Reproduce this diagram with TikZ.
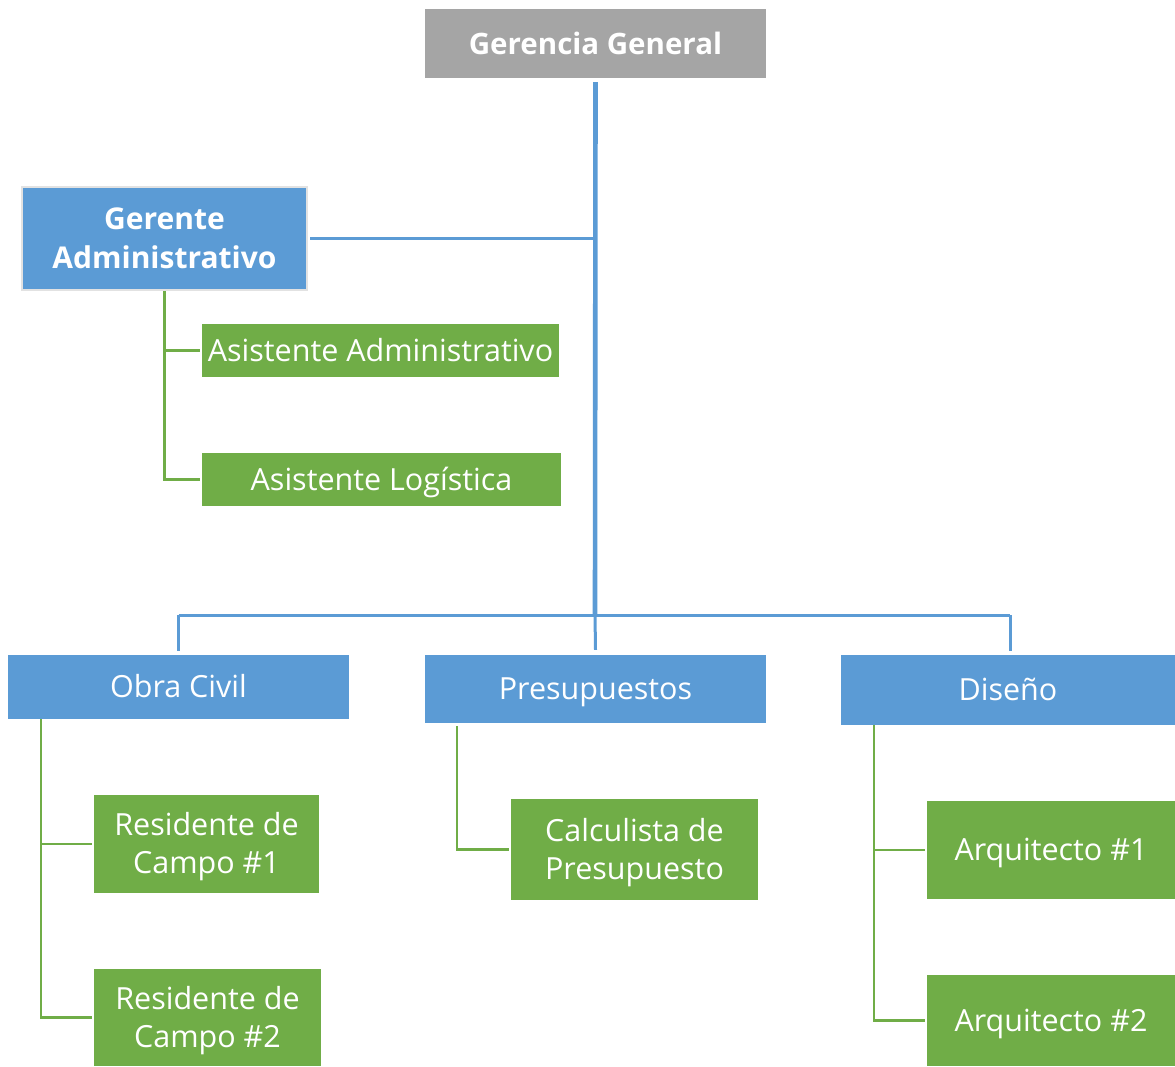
\documentclass[tikz,border=0pt]{standalone}
\usepackage{fontspec}
\setmainfont{Open Sans}
\definecolor{gbox}{HTML}{A5A5A5}
\definecolor{bbox}{HTML}{5B9BD5}
\definecolor{grbox}{HTML}{70AD47}
\definecolor{bline}{HTML}{5B9BD5}
\definecolor{gline}{HTML}{70AD47}
\definecolor{rim}{HTML}{E2E2E2}
\newcommand{\twolines}[3]{\raisebox{0pt}[\dimexpr#1+0.714em\relax][0pt]{\vbox{\baselineskip=#1\halign{\hfil##\hfil\cr#2\cr#3\cr}}}}
\begin{document}
\begin{tikzpicture}[x=1pt,y=-1pt,
  box/.style={rectangle, inner sep=0pt, text=white,
    font=\fontsize{30.5}{38}\selectfont},
  one/.style={text height=21.8pt, text depth=0pt},
  graybox/.style={box, fill=gbox, font=\fontsize{29.5}{38}\selectfont\bfseries},
  bluebox/.style={box, fill=bbox},
  greenbox/.style={box, fill=grbox},
  bl/.style={draw=bline, line width=3pt},
  gl/.style={draw=gline, line width=2.6pt}]
\useasboundingbox (0,0) rectangle (1175,1066);

\node[graybox, text height=21.1pt, text depth=0pt, minimum width=341pt, minimum height=69pt] (gg) at (595.5,43.5) {Gerencia General};
\node[bluebox, draw=rim, line width=2pt, font=\fontsize{30}{39}\selectfont\bfseries,
      minimum width=285pt, minimum height=103pt] (ga) at (164.5,238.5) {\twolines{39pt}{Gerente}{Administrativo}};
\node[greenbox, one, minimum width=357pt, minimum height=53pt] (aa) at (380.5,350.5) {Asistente Administrativo};
\node[greenbox, one, minimum width=359pt, minimum height=53pt] (al) at (381.5,479.5) {Asistente Logística};

\node[bluebox, one, minimum width=341pt, minimum height=64pt] (oc) at (178.5,687) {Obra Civil};
\node[bluebox, one, minimum width=341pt, minimum height=68pt] (pr) at (595.5,689) {Presupuestos};
\node[bluebox, one, minimum width=334pt, minimum height=70pt] (di) at (1008,690) {Diseño};

\node[greenbox, minimum width=225pt, minimum height=98pt] (r1) at (206.5,844) {\twolines{38pt}{Residente de}{Campo \#1}};
\node[greenbox, minimum width=227pt, minimum height=97pt] (r2) at (207.5,1017.5) {\twolines{38pt}{Residente de}{Campo \#2}};
\node[greenbox, minimum width=247pt, minimum height=101pt] (cp) at (634.5,849.5) {\twolines{38pt}{Calculista de}{Presupuesto}};
\node[greenbox, one, minimum width=248pt, minimum height=98pt] (a1) at (1051,850) {Arquitecto \#1};
\node[greenbox, one, minimum width=248pt, minimum height=91pt] (a2) at (1051,1020.5) {Arquitecto \#2};

\coordinate (bar) at (595,615);

% blue connectors
\draw[bl, line width=4.6pt] ([yshift=-4pt]gg.south) -- (bar);
\draw[bl] ([xshift=2pt]ga.east) -- (ga.east -| gg.south);
\draw[bl] (oc.north |- bar) -- ([xshift=2pt]di.north |- bar);
\draw[bl] (oc.north |- bar) -- ([yshift=4pt]oc.north);
\draw[bl] (bar) -- ([yshift=5pt]pr.north);
\draw[bl] ([xshift=2pt]di.north |- bar) -- ([xshift=2pt,yshift=4pt]di.north);

% green connectors
\draw[gl] ([yshift=-2pt]ga.south) |- ([xshift=-2pt]aa.west);
\draw[gl] (ga.south) |- ([xshift=-2pt]al.west);

\draw[gl] ([xshift=33pt,yshift=-3pt]oc.south west) |- ([xshift=-2pt]r1.west);
\draw[gl] ([xshift=33pt]oc.south west) |- ([xshift=-2pt]r2.west);

\draw[gl] ([xshift=32pt,yshift=-3pt]pr.south west) |- ([xshift=-2pt]cp.west);

\draw[gl] ([xshift=33pt,yshift=-3pt]di.south west) |- ([xshift=-2pt]a1.west);
\draw[gl] ([xshift=33pt]di.south west) |- ([xshift=-2pt]a2.west);
\end{tikzpicture}
\end{document}
